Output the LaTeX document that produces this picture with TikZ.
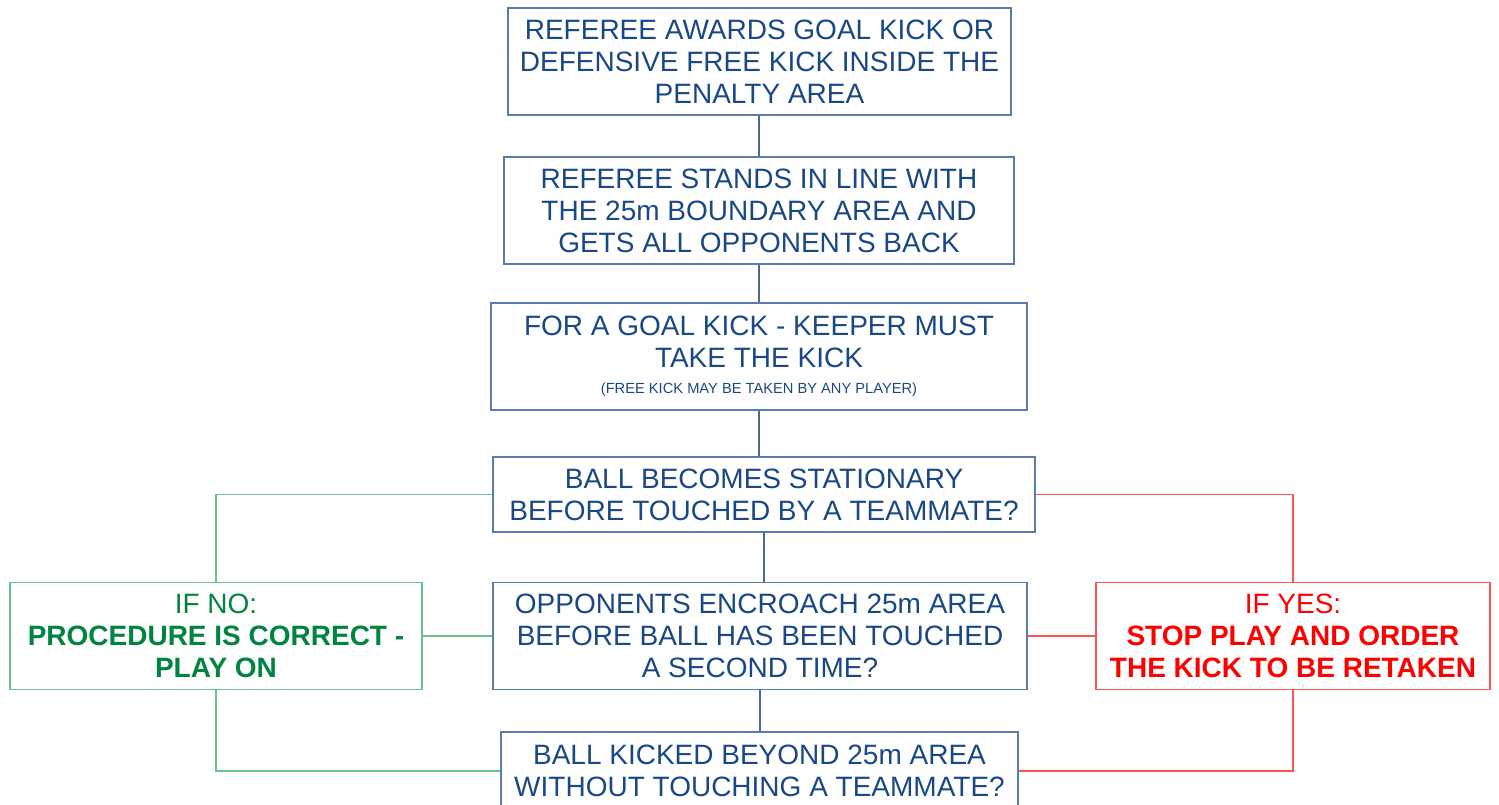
\documentclass[tikz,border=0pt]{standalone}
\usepackage{fontspec}
\setmainfont{Liberation Sans}
\definecolor{bluetxt}{HTML}{1A4885}
\definecolor{blueln}{HTML}{5A7BAE}
\definecolor{greentxt}{HTML}{00843F}
\definecolor{greenln}{HTML}{6CBF8F}
\definecolor{redtxt}{HTML}{FF0000}
\definecolor{redln}{HTML}{FF5252}
\tikzset{
  bx/.style n args={2}{rectangle, inner sep=0pt, align=center,
    minimum width={#1*0.75pt}, minimum height={#2*0.75pt},
    line width=1.2pt, font=\fontsize{21}{24}\selectfont},
  bluebox/.style={draw=blueln, text=bluetxt, fill=white},
  greenbox/.style={draw=greenln, text=greentxt, fill=white},
  redbox/.style={draw=redln, text=redtxt, fill=white},
  blueconn/.style={draw=blueln!85!black, line width=1.1pt},
  greenconn/.style={draw=greenln, line width=1.1pt},
  redconn/.style={draw=redln, line width=1.1pt},
}
\begin{document}
\begin{tikzpicture}[x=0.75pt, y=-0.75pt]
\useasboundingbox[fill=white] (0,0) rectangle (1499,804);

\node[bluebox, bx={503}{107}] (b1) at (759.5,61.5)
  {REFEREE AWARDS GOAL KICK OR\\DEFENSIVE FREE KICK INSIDE THE\\PENALTY AREA};
\node[bluebox, bx={510}{107}] (b2) at (759,210.5)
  {REFEREE STANDS IN LINE WITH\\THE 25m BOUNDARY AREA AND\\GETS ALL OPPONENTS BACK};
\node[bluebox, bx={536}{107}] (b3) at (759,356.5)
  {FOR A GOAL KICK - KEEPER MUST\\TAKE THE KICK\\[-4.5pt]{\fontsize{11}{12}\selectfont (FREE KICK MAY BE TAKEN BY ANY PLAYER)}};
\node[bluebox, bx={542}{75}] (b4) at (764,494.5)
  {BALL BECOMES STATIONARY\\BEFORE TOUCHED BY A TEAMMATE?};
\node[bluebox, bx={534}{107}] (b5) at (760,636)
  {OPPONENTS ENCROACH 25m AREA\\BEFORE BALL HAS BEEN TOUCHED\\A SECOND TIME?};
\node[bluebox, bx={517}{78}] (b6) at (759.5,771)
  {BALL KICKED BEYOND 25m AREA\\WITHOUT TOUCHING A TEAMMATE?};
\node[greenbox, bx={412}{107}] (lf) at (216,636)
  {IF NO:\\\textbf{PROCEDURE IS CORRECT -}\\\textbf{PLAY ON}};
\node[redbox, bx={394}{107}] (rt) at (1293,636)
  {IF YES:\\\textbf{STOP PLAY AND ORDER}\\\textbf{THE KICK TO BE RETAKEN}};

\draw[blueconn] (b2.north) -- (b2.north |- b1.south);
\draw[blueconn] (b2.south) -- (b2.south |- b3.north);
\draw[blueconn] (b3.south) -- (b3.south |- b4.north);
\draw[blueconn] (b4.south) -- (b4.south |- b5.north);
\draw[blueconn] (b5.south) -- (b5.south |- b6.north);

\draw[greenconn] (b4.west) -| (lf.north);
\draw[greenconn] (lf.east) -- (b5.west);
\draw[greenconn] (lf.south) |- (b6.west);

\draw[redconn] (b4.east) -| (rt.north);
\draw[redconn] (b5.east) -- (rt.west);
\draw[redconn] (rt.south) |- (b6.east);
\end{tikzpicture}
\end{document}
